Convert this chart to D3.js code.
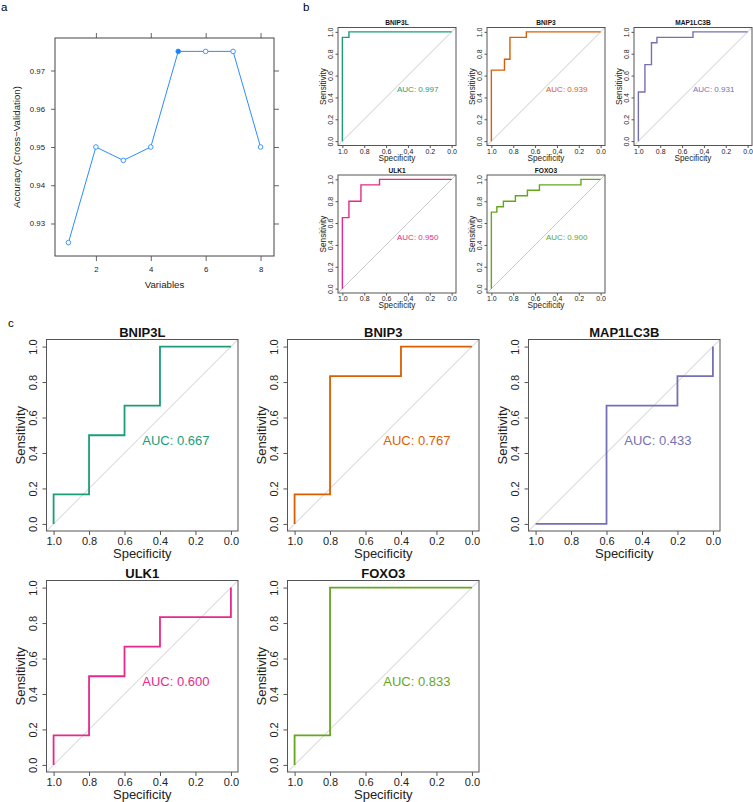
<!DOCTYPE html>
<html>
<head>
<meta charset="utf-8">
<script src="https://cdn.jsdelivr.net/npm/d3@7"></script>
<style>
  body { margin: 0; background: #fff; }
  svg { font-family: "Liberation Sans", Arial, sans-serif; }
</style>
</head>
<body>
<script>

// panel a: cross-validated accuracy by number of variables
var nVariables = [1, 2, 3, 4, 5, 6, 7, 8];
var cvAccuracy = [0.925, 0.950, 0.9465, 0.950, 0.975, 0.975, 0.975, 0.950];
var bestSize = 5;
var varTicks = [2, 4, 6, 8];
var accTicks = [0.93, 0.94, 0.95, 0.96, 0.97];

// genes, colours and AUC values
var genes = ["BNIP3L", "BNIP3", "MAP1LC3B", "ULK1", "FOXO3"];
var geneColors = ["#1b9e77", "#d95f02", "#7570b3", "#e7298a", "#66a61e"];
var aucTrain = [0.997, 0.939, 0.931, 0.950, 0.900];
var aucTest = [0.667, 0.767, 0.433, 0.600, 0.833];
var rocTicks = [1.0, 0.8, 0.6, 0.4, 0.2, 0.0];

// ROC points, [specificity, sensitivity] -- panel b
var trainBNIP3L = [[1, 0], [1, 0.95], [0.94, 0.95], [0.94, 1], [0, 1]];
var trainBNIP3 = [[1, 0], [1, 0.65], [0.88, 0.65], [0.88, 0.75], [0.83, 0.75], [0.83, 0.95], [0.68, 0.95], [0.68, 1], [0, 1]];
var trainMAP1LC3B = [[1, 0], [1, 0.45], [0.94, 0.45], [0.94, 0.70], [0.88, 0.70], [0.88, 0.90], [0.83, 0.90], [0.83, 0.95], [0.50, 0.95], [0.50, 1], [0, 1]];
var trainULK1 = [[1, 0], [1, 0.65], [0.94, 0.65], [0.94, 0.80], [0.83, 0.80], [0.83, 0.95], [0.66, 0.95], [0.66, 1], [0, 1]];
var trainFOXO3 = [[1, 0], [1, 0.70], [0.95, 0.70], [0.95, 0.75], [0.89, 0.75], [0.89, 0.80], [0.78, 0.80], [0.78, 0.85], [0.67, 0.85], [0.67, 0.90], [0.56, 0.90], [0.56, 0.95], [0.18, 0.95], [0.18, 1], [0, 1]];

// ROC points, [specificity, sensitivity] -- panel c
var testBNIP3L = [[1, 0], [1, 0.167], [0.8, 0.167], [0.8, 0.5], [0.6, 0.5], [0.6, 0.667], [0.4, 0.667], [0.4, 1], [0, 1]];
var testBNIP3 = [[1, 0], [1, 0.167], [0.8, 0.167], [0.8, 0.833], [0.4, 0.833], [0.4, 1], [0, 1]];
var testMAP1LC3B = [[1, 0], [0.6, 0], [0.6, 0.667], [0.2, 0.667], [0.2, 0.833], [0, 0.833], [0, 1]];
var testULK1 = [[1, 0], [1, 0.167], [0.8, 0.167], [0.8, 0.5], [0.6, 0.5], [0.6, 0.667], [0.4, 0.667], [0.4, 0.833], [0, 0.833], [0, 1]];
var testFOXO3 = [[1, 0], [1, 0.167], [0.8, 0.167], [0.8, 1], [0, 1]];

var trainRocs = [trainBNIP3L, trainBNIP3, trainMAP1LC3B, trainULK1, trainFOXO3];
var testRocs = [testBNIP3L, testBNIP3, testMAP1LC3B, testULK1, testFOXO3];

var svg = d3.select("body").append("svg")
  .attr("width", 753)
  .attr("height", 802);

// small helper for axis styling
var styleAxis = function (g, fs, col) {
  g.select(".domain").remove();
  g.selectAll("line").attr("stroke", col);
  g.selectAll("text")
    .attr("font-family", null)
    .attr("font-size", fs)
    .attr("fill", "#222");
};

// ---------- panel a ----------
var ab = {left: 55, right: 274, top: 38, bottom: 256};
var xA = d3.scaleLinear().domain([0.51, 8.49]).range([ab.left, ab.right]);
var yA = d3.scaleLinear().domain([0.9215, 0.9785]).range([ab.bottom, ab.top]);
var gA = svg.append("g");

gA.append("g").attr("transform", "translate(0," + ab.bottom + ")")
  .call(d3.axisBottom(xA).tickValues(varTicks).tickSize(5))
  .call(styleAxis, 7.8, "#666")
  .selectAll("text").attr("y", 13).attr("dy", "0.35em");
gA.append("g").attr("transform", "translate(0," + ab.top + ")")
  .call(d3.axisTop(xA).tickValues(varTicks).tickSize(5).tickFormat(""))
  .call(styleAxis, 7.8, "#666");
gA.append("g").attr("transform", "translate(" + ab.left + ",0)")
  .call(d3.axisLeft(yA).tickValues(accTicks).tickSize(4).tickPadding(6).tickFormat(d3.format(".2f")))
  .call(styleAxis, 7.8, "#666");
gA.append("g").attr("transform", "translate(" + ab.right + ",0)")
  .call(d3.axisRight(yA).tickValues(accTicks).tickSize(5).tickFormat(""))
  .call(styleAxis, 7.8, "#666");

gA.append("rect")
  .attr("x", ab.left).attr("y", ab.top)
  .attr("width", ab.right - ab.left).attr("height", ab.bottom - ab.top)
  .attr("fill", "none").attr("stroke", "#444");

var accPts = nVariables.map(function (v, i) { return [v, cvAccuracy[i]]; });
gA.append("path")
  .datum(accPts)
  .attr("fill", "none")
  .attr("stroke", "#2b8cff")
  .attr("stroke-width", 1)
  .attr("d", d3.line().x(function (d) { return xA(d[0]); }).y(function (d) { return yA(d[1]); }));
gA.selectAll("circle.acc").data(accPts).enter()
  .append("circle")
  .attr("class", "acc")
  .attr("cx", function (d) { return xA(d[0]); })
  .attr("cy", function (d) { return yA(d[1]); })
  .attr("r", 2.3)
  .attr("fill", function (d) { return d[0] === bestSize ? "#1a7fff" : "#fff"; })
  .attr("stroke", "#2b8cff")
  .attr("stroke-width", 0.9);

gA.append("text")
  .attr("x", (ab.left + ab.right) / 2).attr("y", 285).attr("dy", "0.35em")
  .attr("text-anchor", "middle").attr("font-size", 9.7).attr("fill", "#222")
  .text("Variables");
gA.append("text")
  .attr("transform", "translate(17," + (ab.top + ab.bottom) / 2 + ") rotate(-90)")
  .attr("dy", "0.35em")
  .attr("text-anchor", "middle").attr("font-size", 9.7).attr("fill", "#222")
  .text("Accuracy (Cross\u2212Validation)");

// ---------- ROC panels (b and c) ----------
var rocPanel = function (left, top, size, pts, color, name, auc, st) {
  var g = svg.append("g");
  var x = d3.scaleLinear().domain([1.04, -0.04]).range([left, left + size]);
  var y = d3.scaleLinear().domain([-0.04, 1.04]).range([top + size, top]);
  var fmt = d3.format(".1f");

  g.append("g").attr("transform", "translate(0," + (top + size) + ")")
    .call(d3.axisBottom(x).tickValues(rocTicks).tickSize(st.tick).tickFormat(fmt))
    .call(styleAxis, st.font, "#555")
    .selectAll("text").attr("y", st.xtickOff).attr("dy", "0.35em");

  g.append("g").attr("transform", "translate(" + left + ",0)")
    .call(d3.axisLeft(y).tickValues(rocTicks).tickSize(st.tick).tickFormat(fmt))
    .call(styleAxis, st.font, "#555")
    .selectAll("text")
    .attr("x", 0).attr("y", -st.ytickOff).attr("dy", "0.35em")
    .attr("text-anchor", "middle")
    .attr("transform", "rotate(-90)");

  // chance line
  g.append("line")
    .attr("x1", x(1.04)).attr("y1", y(-0.04))
    .attr("x2", x(-0.04)).attr("y2", y(1.04))
    .attr("stroke", "#bdbdbd").attr("stroke-width", 0.8);

  g.append("path")
    .datum(pts)
    .attr("fill", "none")
    .attr("stroke", color)
    .attr("stroke-width", st.lw)
    .attr("d", d3.line().x(function (d) { return x(d[0]); }).y(function (d) { return y(d[1]); }));

  g.append("rect")
    .attr("x", left).attr("y", top)
    .attr("width", size).attr("height", size)
    .attr("fill", "none").attr("stroke", "#555").attr("stroke-width", 1);

  g.append("text")
    .attr("x", x(0.5)).attr("y", y(0.5) + 0.72 * st.aucFont)
    .attr("font-size", st.aucFont).attr("fill", color)
    .text("AUC: " + d3.format(".3f")(auc));

  g.append("text")
    .attr("x", left + size / 2).attr("y", top - st.titleOff)
    .attr("text-anchor", "middle").attr("font-size", st.titleFont)
    .attr("font-weight", "bold").attr("fill", "#111")
    .text(name);

  g.append("text")
    .attr("x", left + size / 2).attr("y", top + size + st.xlabOff).attr("dy", "0.35em")
    .attr("text-anchor", "middle").attr("font-size", st.labFont).attr("fill", "#222")
    .text("Specificity");

  g.append("text")
    .attr("transform", "translate(" + (left - st.ylabOff) + "," + (top + size / 2) + ") rotate(-90)")
    .attr("dy", "0.35em")
    .attr("text-anchor", "middle").attr("font-size", st.labFont).attr("fill", "#222")
    .text("Sensitivity");
};

var smallSt = {tick: 2.5, font: 7, xtickOff: 5.8, ytickOff: 7, labFont: 8.2, xlabOff: 12.3,
  ylabOff: 15.3, titleFont: 6.6, titleOff: 2.2, aucFont: 8, lw: 1.4};
var bigSt = {tick: 4, font: 11, xtickOff: 10, ytickOff: 13.5, labFont: 13, xlabOff: 22.3,
  ylabOff: 26.5, titleFont: 13, titleOff: 2.8, aucFont: 13, lw: 1.8};

var bCols = [338, 487, 634], bRows = [27.5, 175], bSize = 118;
var cCols = [46.5, 287.5, 528.5], cRows = [339.5, 580.5], cSize = 191.5;

genes.forEach(function (gene, i) {
  var col = i % 3, row = Math.floor(i / 3);
  rocPanel(bCols[col], bRows[row], bSize, trainRocs[i], geneColors[i], gene, aucTrain[i], smallSt);
  rocPanel(cCols[col], cRows[row], cSize, testRocs[i], geneColors[i], gene, aucTest[i], bigSt);
});

// panel letters
svg.append("text").attr("x", 1).attr("y", 11).attr("font-size", 11.5).text("a");
svg.append("text").attr("x", 303).attr("y", 10.5).attr("font-size", 11.5).text("b");
svg.append("text").attr("x", 8).attr("y", 327).attr("font-size", 11.5).text("c");

</script>
</body>
</html>
